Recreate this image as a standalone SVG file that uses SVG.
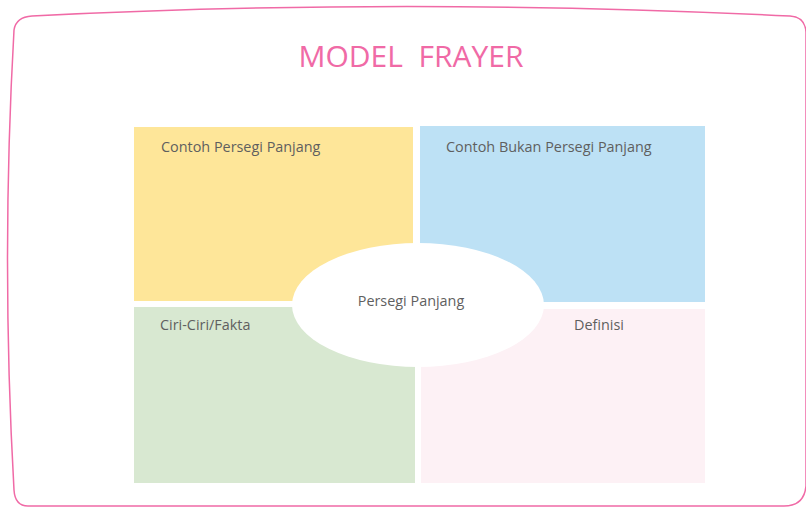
<svg xmlns="http://www.w3.org/2000/svg" width="806" height="507" viewBox="0 0 806 507">
<style>
.lbl{font-family:"Open Sans","Noto Sans",sans-serif;font-size:14.4px;fill:#5f5f5f}
.title{font-family:"Open Sans","Noto Sans",sans-serif;font-size:30px;fill:#f06aa6;white-space:pre}
</style>
<rect width="806" height="507" fill="#ffffff"/>
<g id="frame">
<path d="M 32,16 Q 403,-3 790,16 Q 805,17 806,32 L 806,486 Q 804,506 784,506 L 28,506 Q 15,506 14,490 Q 1,260 14,30 Q 16,17 32,16 Z" fill="none" stroke="#f06aa6" stroke-width="1.5"/>
</g>
<g id="title"><text class="title" x="411" y="67" text-anchor="middle">MODEL  FRAYER</text></g>
<g id="q1"><rect x="134" y="127" width="279" height="174" fill="#fee699"/><text class="lbl" x="161" y="152">Contoh Persegi Panjang</text></g>
<g id="q2"><rect x="420" y="126" width="285" height="176" fill="#bde1f5"/><text class="lbl" x="446" y="152">Contoh Bukan Persegi Panjang</text></g>
<g id="q3"><rect x="134" y="307" width="281" height="176" fill="#d8e8d1"/><text class="lbl" x="160" y="330">Ciri-Ciri/Fakta</text></g>
<g id="q4"><rect x="421" y="309" width="284" height="174" fill="#fdf1f5"/><text class="lbl" x="574" y="330">Definisi</text></g>
<g id="center"><ellipse cx="418" cy="305" rx="126" ry="62" fill="#ffffff"/><text class="lbl" x="411" y="306" text-anchor="middle">Persegi Panjang</text></g>
<g id="connectors"/>
</svg>
